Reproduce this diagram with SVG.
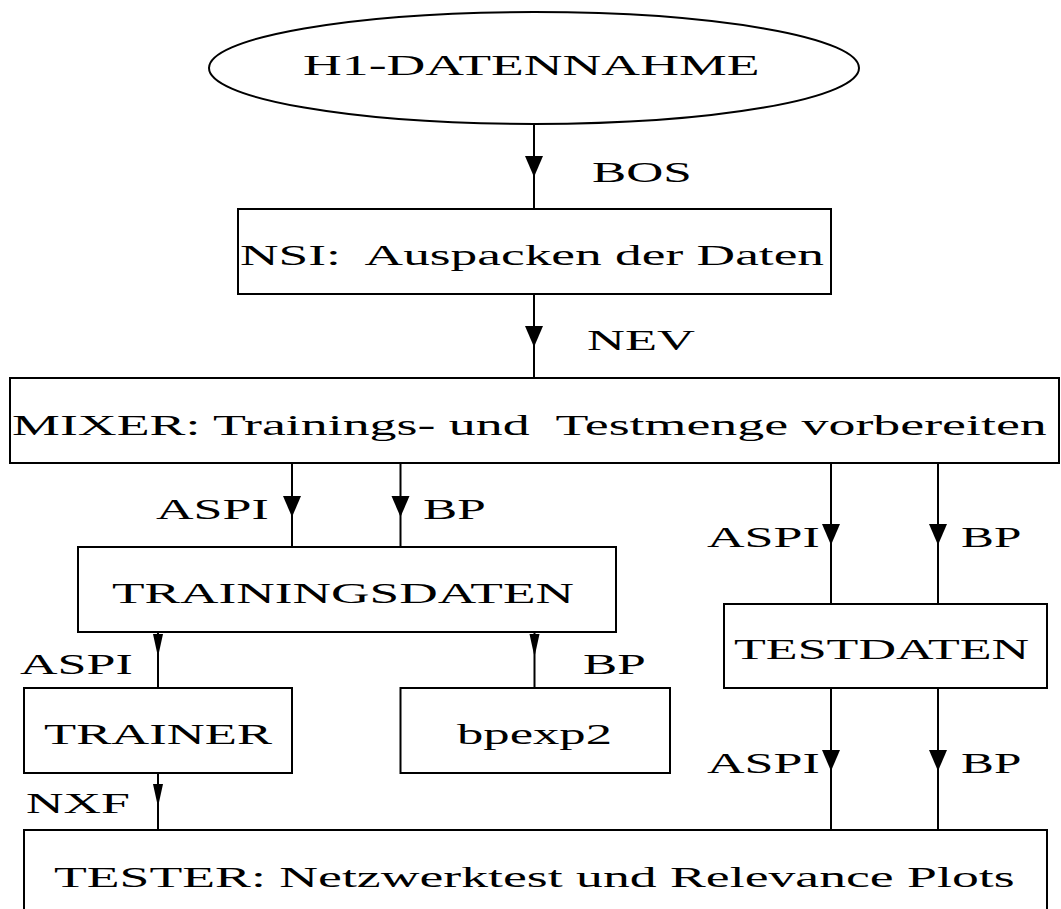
<svg xmlns="http://www.w3.org/2000/svg" xmlns:xlink="http://www.w3.org/1999/xlink" width="1061" height="909" viewBox="0 0 1061 909">
<style>
.box{fill:#fff;stroke:#000;stroke-width:2}
.t{font-family:"Liberation Serif","Times New Roman",serif;font-size:29px;fill:#000}
.ln{stroke:#000;stroke-width:2;fill:none}
.ah{fill:#000}
</style>
<defs>
<path id="big" class="ah" d="M-9,0 L9,0 L0,21 Z"/>
<path id="small" class="ah" d="M-5,0 L5,0 L0,23 Z"/>
</defs>
<rect width="1061" height="909" fill="#fff"/>
<g id="connectors">
<path class="ln" d="M534,124V210 M534,294V378 M292,463V547 M400.5,463V547 M831,463V604 M938,463V604 M158,632V688 M534.5,632V688 M158,773V830 M831,688V830 M938,688V830"/>
<use xlink:href="#big" x="534" y="156"/>
<use xlink:href="#big" x="534" y="326"/>
<use xlink:href="#big" x="292" y="496"/>
<use xlink:href="#big" x="400.5" y="496"/>
<use xlink:href="#big" x="831" y="524"/>
<use xlink:href="#big" x="938" y="524"/>
<use xlink:href="#small" x="158" y="634"/>
<use xlink:href="#small" x="534.5" y="634"/>
<use xlink:href="#small" x="158" y="784"/>
<use xlink:href="#big" x="831" y="750"/>
<use xlink:href="#big" x="938" y="750"/>
<text class="t" transform="translate(592,182) scale(1.769,1)">BOS</text>
<text class="t" transform="translate(587,350) scale(1.812,1)">NEV</text>
<text class="t" transform="translate(156,519) scale(1.797,1)">ASPI</text>
<text class="t" transform="translate(423,519) scale(1.769,1)">BP</text>
<text class="t" transform="translate(707,547) scale(1.797,1)">ASPI</text>
<text class="t" transform="translate(961,547) scale(1.7,1)">BP</text>
<text class="t" transform="translate(20,674) scale(1.797,1)">ASPI</text>
<text class="t" transform="translate(583,674) scale(1.769,1)">BP</text>
<text class="t" transform="translate(26,813) scale(1.793,1)">NXF</text>
<text class="t" transform="translate(707,773) scale(1.797,1)">ASPI</text>
<text class="t" transform="translate(961,773) scale(1.7,1)">BP</text>
</g>
<g id="h1">
<ellipse class="box" cx="534" cy="68" rx="325" ry="56"/>
<text class="t" transform="translate(303,75) scale(1.853,1)">H1-DATENNAHME</text>
</g>
<g id="nsi">
<rect class="box" x="238" y="209" width="593" height="85"/>
<text class="t" transform="translate(240,265) scale(1.841,1)" xml:space="preserve">NSI:  Auspacken der Daten</text>
</g>
<g id="mixer">
<rect class="box" x="10" y="378" width="1049" height="85"/>
<text class="t" transform="translate(12,435) scale(1.857,1)" xml:space="preserve">MIXER: Trainings- und  Testmenge vorbereiten</text>
</g>
<g id="trainingsdaten">
<rect class="box" x="78" y="547" width="538" height="85"/>
<text class="t" transform="translate(112,603) scale(1.839,1)">TRAININGSDATEN</text>
</g>
<g id="testdaten">
<rect class="box" x="724" y="604" width="323" height="84"/>
<text class="t" transform="translate(734,659) scale(1.797,1)">TESTDATEN</text>
</g>
<g id="trainer">
<rect class="box" x="24" y="688" width="268" height="85"/>
<text class="t" transform="translate(44,744) scale(1.815,1)">TRAINER</text>
</g>
<g id="bpexp2">
<rect class="box" x="400.5" y="688" width="269.5" height="85"/>
<text class="t" transform="translate(457,744) scale(1.816,1)">bpexp2</text>
</g>
<g id="tester">
<rect class="box" x="24" y="830" width="1023" height="100"/>
<text class="t" transform="translate(54,887) scale(1.853,1)">TESTER: Netzwerktest und Relevance Plots</text>
</g>
</svg>
